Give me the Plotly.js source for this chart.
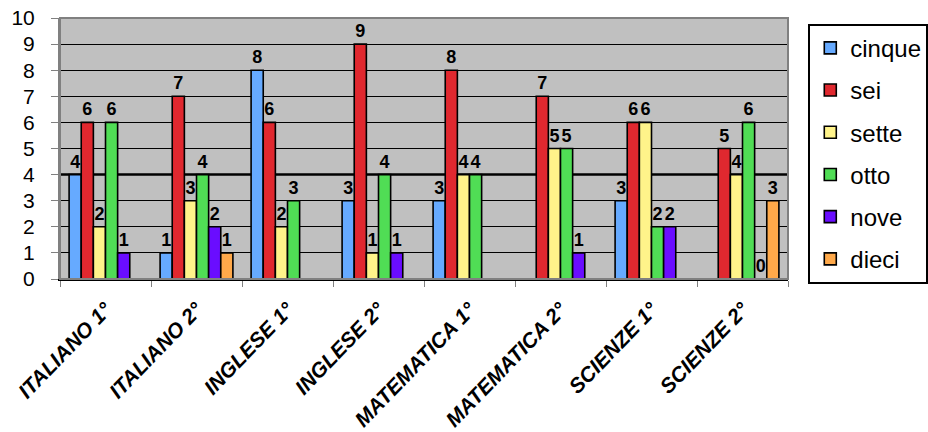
<!DOCTYPE html>
<html>
<head>
<meta charset="utf-8">
<script src="https://cdn.plot.ly/plotly-3.0.1.min.js"></script>
<style>html,body{margin:0;padding:0;background:#fff;}#chart{width:928px;height:432px;}</style>
</head>
<body>
<div id="chart"></div>
<script>
const categories = ["ITALIANO 1°", "ITALIANO 2°", "INGLESE 1°", "INGLESE 2°", "MATEMATICA 1°", "MATEMATICA 2°", "SCIENZE 1°", "SCIENZE 2°"];
const seriesNames = ["cinque", "sei", "sette", "otto", "nove", "dieci"];
const cinque = [4, 1, 8, 3, 3, null, 3, null];
const sei    = [6, 7, 6, 9, 8, 7, 6, 5];
const sette  = [2, 3, 2, 1, 4, 5, 6, 4];
const otto   = [6, 4, 3, 4, 4, 5, 2, 6];
const nove   = [1, 2, null, 1, null, 1, 2, 0];
const dieci  = [null, 1, null, null, null, null, null, 3];
const yTicks = [0, 1, 2, 3, 4, 5, 6, 7, 8, 9, 10];

const seriesValues = [cinque, sei, sette, otto, nove, dieci];
const colors = ["#66AAFF", "#E0282F", "#FFF38A", "#50DD55", "#6A0DFF", "#FFA94A"];

const traces = seriesValues.map((vals, i) => ({
  type: "bar",
  name: seriesNames[i],
  legendgroup: seriesNames[i],
  x: categories,
  y: vals,
  marker: {color: colors[i], line: {color: "#000", width: 1.6}},
  text: vals.map(v => v === null ? "" : String(v)),
  textposition: "outside",
  constraintext: "none",
  cliponaxis: false,
  textfont: {family: "Arial, Liberation Sans, sans-serif", size: 18, color: "#000", weight: "bold"},
  hoverinfo: "x+y+name"
}));

const layout = {
  width: 928, height: 432,
  margin: {l: 60, r: 140, t: 18, b: 153},
  paper_bgcolor: "#ffffff",
  plot_bgcolor: "#C0C0C0",
  barmode: "group",
  bargap: 0.2,
  bargroupgap: 0,
  font: {family: "Arial, Liberation Sans, sans-serif", color: "#000"},
  xaxis: {
    type: "category",
    tickangle: -46,
    tickfont: {size: 21, weight: "bold", style: "italic", color: "#000"},
    ticks: "outside", tickson: "boundaries", ticklen: 6, tickcolor: "#808080",
    ticklabelstandoff: 8,
    showline: true, linecolor: "#000", linewidth: 2,
    showgrid: false, fixedrange: true, automargin: false
  },
  yaxis: {
    range: [0, 10],
    tickvals: yTicks,
    ticktext: yTicks.map(String),
    tickfont: {size: 21, color: "#000"},
    ticks: "outside", ticklen: 7, tickcolor: "#808080",
    ticklabelstandoff: 12,
    showgrid: true, gridcolor: "#000", gridwidth: 1,
    showline: true, linecolor: "#808080", linewidth: 2,
    zeroline: false, fixedrange: true, automargin: false
  },
  shapes: [{
    type: "rect", xref: "paper", yref: "paper", x0: 0, x1: 1, y0: 0, y1: 1,
    line: {color: "#808080", width: 2}, fillcolor: "rgba(0,0,0,0)", layer: "above"
  }, {
    type: "line", xref: "paper", yref: "y", x0: 0, x1: 1, y0: yTicks[4], y1: yTicks[4],
    line: {color: "#000", width: 2.5}, layer: "below"
  }],
  showlegend: true,
  legend: {
    xref: "container", yref: "container",
    x: 0.871, y: 0.945, xanchor: "left", yanchor: "top",
    bgcolor: "#fff", bordercolor: "#000", borderwidth: 2,
    font: {size: 24, color: "#000"},
    tracegroupgap: 8,
    traceorder: "grouped",
    entrywidth: 140,
    maxheight: 320
  }
};

Plotly.newPlot("chart", traces, layout, {displayModeBar: false, staticPlot: true});
</script>
</body>
</html>
